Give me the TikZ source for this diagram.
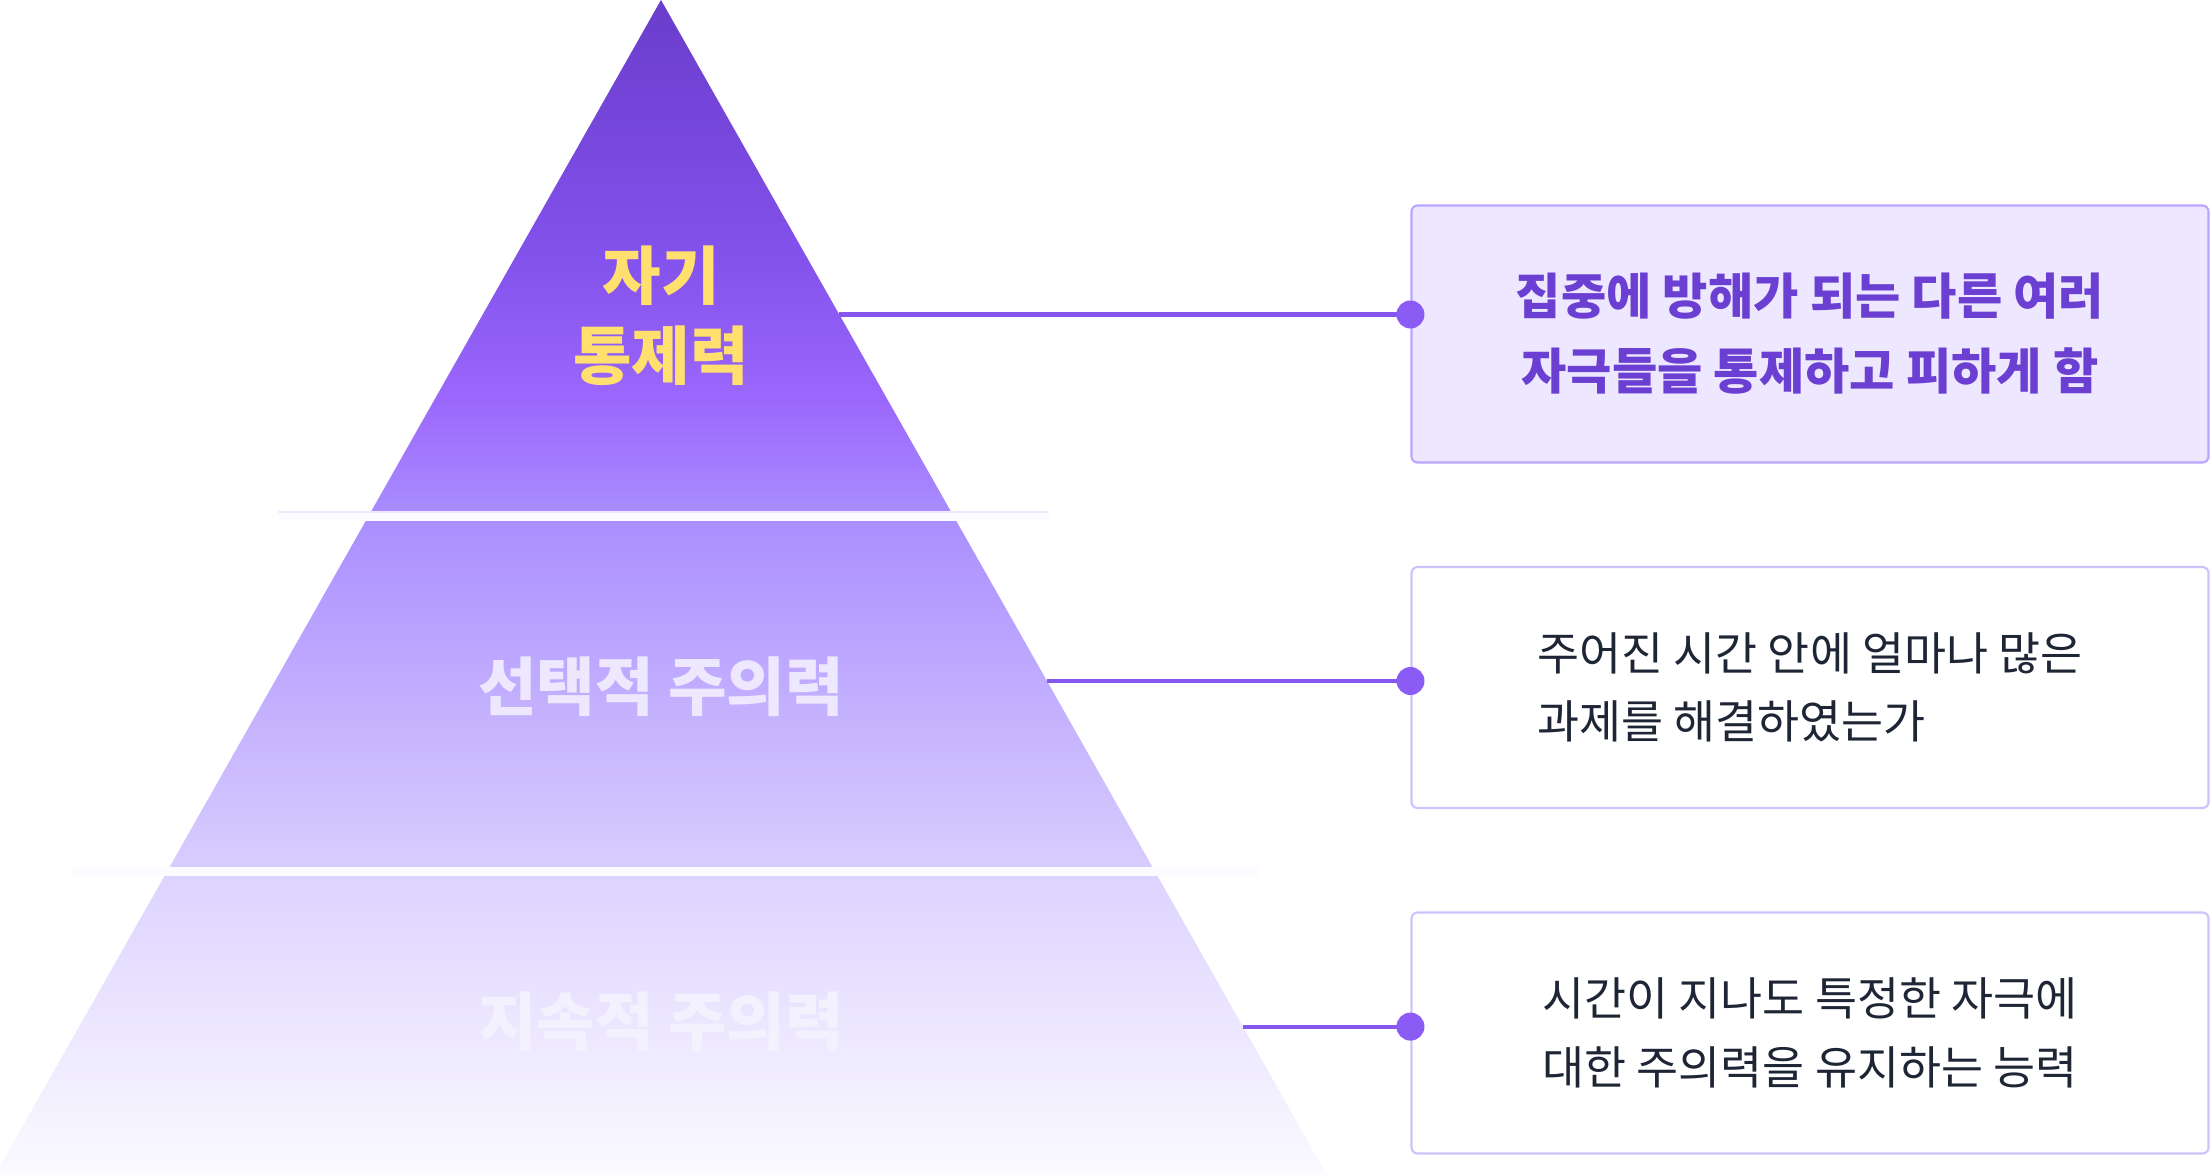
\documentclass[tikz,border=0pt]{standalone}
\usepackage{fontspec}
\setmainfont{Noto Sans CJK KR}
\usetikzlibrary{positioning,shapes}
\definecolor{topA}{HTML}{6A3DCB}
\definecolor{topB}{HTML}{8351EC}
\definecolor{topC}{HTML}{9B67FC}
\definecolor{topD}{HTML}{A98CFF}
\definecolor{midA}{HTML}{AB8FFF}
\definecolor{midB}{HTML}{C1AEFF}
\definecolor{midC}{HTML}{D8CDFE}
\definecolor{lowA}{HTML}{DDD3FF}
\definecolor{lowB}{HTML}{EAE4FE}
\definecolor{lowC}{HTML}{FBFAFF}
\definecolor{gapwhite}{HTML}{FCFBFF}
\definecolor{gapline}{HTML}{EEEAFD}
\definecolor{selfyellow}{HTML}{FFE06E}
\definecolor{selecttext}{HTML}{EEE8FF}
\definecolor{sustaintext}{HTML}{F4F1FF}
\definecolor{linkpurple}{HTML}{8557EE}
\definecolor{dotpurple}{HTML}{8A5CF5}
\definecolor{mainfill}{HTML}{EDE7FF}
\definecolor{mainline}{HTML}{B9A5FF}
\definecolor{maintext}{HTML}{6A3FD1}
\definecolor{boxline}{HTML}{CFC2FA}
\definecolor{boxtext}{HTML}{1E2535}
\pgfdeclareverticalshading{topband}{100bp}{color(0bp)=(topD); color(25bp)=(topD); color(36bp)=(topC); color(50bp)=(topB); color(75bp)=(topA); color(100bp)=(topA)}
\tikzstyle{level} = [font=\bfseries\fontsize{18.1}{22.8}\selectfont, align=center]
\tikzstyle{link} = [line width=1.15pt, draw=linkpurple]
\tikzstyle{dot} = [circle, fill=dotpurple, minimum size=0.28cm, inner sep=0pt]
\tikzstyle{levelbox} = [rectangle, rounded corners=0.06cm, minimum width=7.97cm, minimum height=2.41cm, draw=boxline, line width=0.6pt, fill=white, text=boxtext, font=\fontsize{13}{19.5}\selectfont]
\tikzstyle{mainbox} = [levelbox, minimum height=2.57cm, draw=mainline, fill=mainfill, text=maintext, font=\bfseries\fontsize{14}{21.3}\selectfont]
\begin{document}
\begin{tikzpicture}[node distance=3.5cm]
\useasboundingbox (0,0) rectangle (22.11,-11.75);
\coordinate (apex) at (6.61,0);
\coordinate (bl) at (-0.05,-11.75);
\coordinate (br) at (13.27,-11.75);

\begin{scope}
\clip (apex) -- (bl) -- (br) -- cycle;
\shade [shading=topband] (-0.1,0) rectangle (13.4,-5.12);
\shade [top color=midA, middle color=midB, bottom color=midC] (-0.1,-5.21) rectangle (13.4,-8.67);
\shade [top color=lowA, middle color=lowB, bottom color=lowC] (-0.1,-8.76) rectangle (13.4,-11.75);
\end{scope}
\fill [gapwhite] (2.78,-5.12) rectangle (10.49,-5.21);
\draw [gapline, line width=0.4pt] (2.78,-5.12) -- (10.49,-5.12);
\fill [gapwhite] (0.71,-8.67) rectangle (12.59,-8.76);

\node (selfctrl) [level, text=selfyellow] at (6.61,-3.16) {자기\\통제력};
\node (selective) [level, text=selecttext, below of=selfctrl, yshift=-0.21cm] {선택적 주의력};
\node (sustained) [level, text=sustaintext, below of=selective, yshift=0.15cm] {지속적 주의력};

\node (box1) [mainbox, align=center] at (18.10,-3.34) {집중에 방해가 되는 다른 여러\\자극들을 통제하고 피하게 함};
\node (box2) [levelbox, align=left, below of=box1, yshift=-0.035cm] {주어진 시간 안에 얼마나 많은\\과제를 해결하였는가};
\node (box3) [levelbox, align=center, below of=box2, yshift=0.045cm] {시간이 지나도 특정한 자극에\\대한 주의력을 유지하는 능력};

\coordinate (edge1) at (8.39,-3.145);
\coordinate (edge2) at (10.47,-6.81);
\coordinate (edge3) at (12.43,-10.266);
\coordinate (pin1) at (edge1 -| box1.west);
\coordinate (pin2) at (edge2 -| box2.west);
\coordinate (pin3) at (edge3 -| box3.west);

\draw [link] (edge1) -- (pin1);
\draw [link] (edge2) -- (pin2);
\draw [link] (edge3) -- (pin3);
\node (dot1) [dot] at (pin1) {};
\node (dot2) [dot] at (pin2) {};
\node (dot3) [dot] at (pin3) {};
\end{tikzpicture}
\end{document}
